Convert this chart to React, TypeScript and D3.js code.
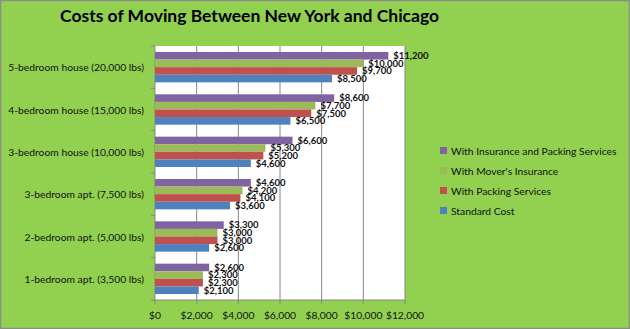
import React from "react";
import * as d3 from "d3";

const categories = [
  "1-bedroom apt. (3,500 lbs)",
  "2-bedroom apt. (5,000 lbs)",
  "3-bedroom apt. (7,500 lbs)",
  "3-bedroom house (10,000 lbs)",
  "4-bedroom house (15,000 lbs)",
  "5-bedroom house (20,000 lbs)",
];
const standardCost = [2100, 2600, 3600, 4600, 6500, 8500];
const withPacking = [2300, 3000, 4100, 5200, 7500, 9700];
const withInsurance = [2300, 3000, 4200, 5300, 7700, 10000];
const withBoth = [2600, 3300, 4600, 6600, 8600, 11200];
const seriesNames = [
  "With Insurance and  Packing Services",
  "With Mover's Insurance",
  "With Packing Services",
  "Standard Cost",
];
const seriesColors = ["#8064A2", "#9BBB59", "#C0504D", "#4F81BD"];
const xTicks = [0, 2000, 4000, 6000, 8000, 10000, 12000];

const W = 630, H = 329;
const plot = { left: 155, right: 405, top: 46, bottom: 300 };
const FONT = "Lato, 'Open Sans', sans-serif";

export default function App() {
  const seriesValues = [withBoth, withInsurance, withPacking, standardCost];
  const x = d3.scaleLinear().domain([0, 12000]).range([plot.left, plot.right]);
  const y = d3.scaleBand().domain(categories).range([plot.bottom, plot.top]).padding(0);
  const bw = y.bandwidth();
  const inner = d3.scaleBand<number>().domain([0, 1, 2, 3]).range([6, bw - 6]).padding(0);
  const fmt = (v: number) => "$" + d3.format(",")(v);
  const catBounds = d3.range(categories.length + 1).map((i) => plot.bottom - i * bw);

  return (
    <svg width={W} height={H} style={{ position: "absolute", left: 0, top: 0 }}>
      <rect x={0.5} y={0.5} width={W - 1} height={H - 1} fill="#92D050" stroke="#8c8c8c" strokeWidth={1.5} />
      <text x={60} y={22} fontFamily={FONT} fontWeight="bold" fontSize={17.5} fill="#000">
        Costs of Moving Between New York and Chicago
      </text>
      <rect x={plot.left} y={plot.top} width={plot.right - plot.left} height={plot.bottom - plot.top} fill="#fff" />
      {xTicks.map((t) => (
        <g key={t}>
          {t > 0 && (
            <line x1={x(t)} x2={x(t)} y1={plot.top} y2={plot.bottom} stroke="#868686" strokeWidth={1} />
          )}
          <line x1={x(t)} x2={x(t)} y1={plot.bottom} y2={plot.bottom + 4} stroke="#868686" />
          <text x={x(t)} y={319} textAnchor="middle" fontFamily={FONT} fontSize={10.3} fill="#111">
            {fmt(t)}
          </text>
        </g>
      ))}
      <line x1={plot.left} x2={plot.right} y1={plot.bottom} y2={plot.bottom} stroke="#868686" />
      <line x1={plot.left} x2={plot.left} y1={plot.top} y2={plot.bottom} stroke="#868686" />
      {catBounds.map((b, i) => (
        <line key={i} x1={plot.left - 4} x2={plot.left} y1={b} y2={b} stroke="#868686" />
      ))}
      {categories.map((c, ci) => (
        <g key={c}>
          <text
            x={144}
            y={(y(c) as number) + bw / 2 + 4}
            textAnchor="end"
            fontFamily={FONT}
            fontSize={10.3}
            fill="#111"
          >
            {c}
          </text>
          {seriesValues.map((vals, si) => {
            const by = (y(c) as number) + (inner(si) as number);
            const bh = inner.bandwidth();
            return (
              <g key={si}>
                <rect x={plot.left} y={by} width={x(vals[ci]) - plot.left} height={bh} fill={seriesColors[si]} />
                <text
                  x={x(vals[ci]) + 5}
                  y={by + bh / 2 + 3.3}
                  fontFamily={FONT}
                  fontWeight="bold"
                  fontSize={9.5}
                  fill="#111"
                >
                  {fmt(vals[ci])}
                </text>
              </g>
            );
          })}
        </g>
      ))}
      {seriesNames.map((n, i) => (
        <g key={n}>
          <rect x={440} y={147 + i * 20} width={7} height={7} fill={seriesColors[i]} />
          <text x={451} y={155 + i * 20} fontFamily={FONT} fontSize={10.3} fill="#111">
            {n}
          </text>
        </g>
      ))}
    </svg>
  );
}
